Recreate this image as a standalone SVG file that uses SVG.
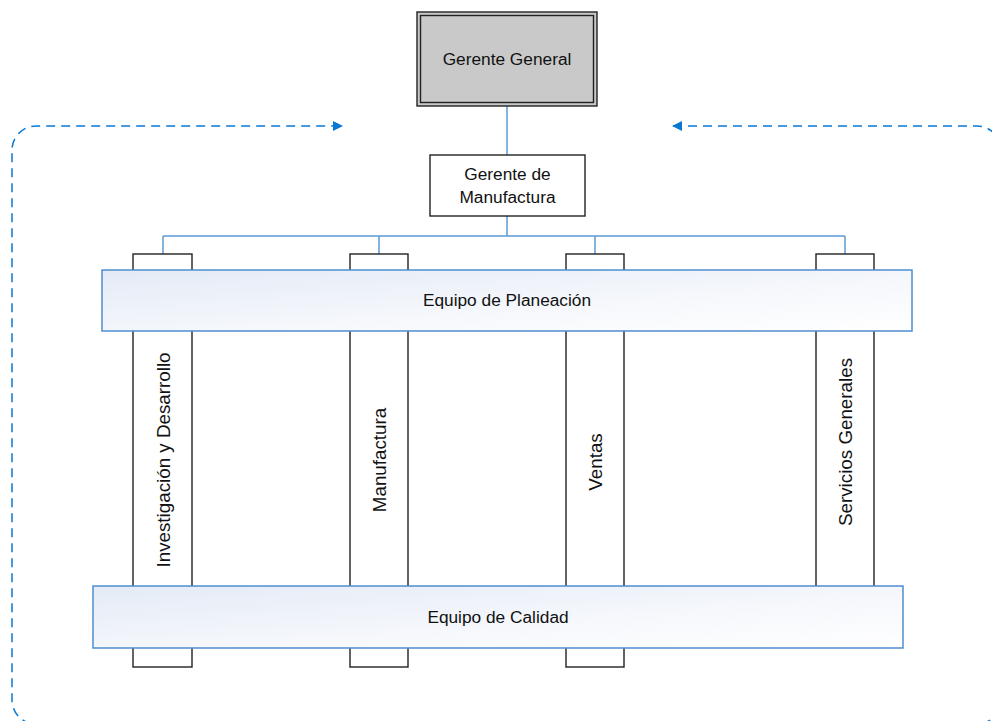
<svg xmlns="http://www.w3.org/2000/svg" width="992" height="721" viewBox="0 0 992 721">
  <defs>
    <linearGradient id="teamFill" x1="0" y1="0" x2="1" y2="1">
      <stop offset="0" stop-color="#e4ebf6"/>
      <stop offset="0.6" stop-color="#f6f8fc"/>
      <stop offset="1" stop-color="#ffffff"/>
    </linearGradient>
    <marker id="arrow" viewBox="0 0 10 10" refX="9" refY="5" markerWidth="10" markerHeight="10" markerUnits="userSpaceOnUse" orient="auto-start-reverse">
      <path d="M0,0 L10,5 L0,10 z" fill="#0a78d2"/>
    </marker>
    <style>
      text { font-family: "Liberation Sans", Arial, sans-serif; font-size: 17.3px; fill: #111; }
      .vert { font-size: 18.8px; }
      .col { fill: #ffffff; stroke: #222; stroke-width: 1.4; }
      .team { fill: url(#teamFill); stroke: #4f8dcf; stroke-width: 1.5; }
      .link { fill: none; stroke: #5b9bd5; stroke-width: 1.5; }
      .loop { fill: none; stroke: #0a78d2; stroke-width: 1.5; stroke-dasharray: 9 6; }
    </style>
  </defs>

  <!-- feedback loop around the organisation -->
  <g id="connectors">
    <path class="loop" d="M673,126 H977 A24,24 0 0 1 1001,150 V700 A24,24 0 0 1 977,724 H36 A24,24 0 0 1 12,700 V150 A24,24 0 0 1 36,126 H342" marker-start="url(#arrow)" marker-end="url(#arrow)"/>
    <path class="link" d="M507,106 V155"/>
    <path class="link" d="M507,216 V236 M163,236 H845 M163,236 V254 M379,236 V254 M595,236 V254 M845,236 V254"/>
  </g>

  <!-- functional columns (drawn first so team bands cross over them) -->
  <g id="col-investigacion">
    <rect class="col" x="133" y="254" width="59" height="413"/>
    <text class="vert" transform="translate(170,460) rotate(-90)" text-anchor="middle">Investigación y Desarrollo</text>
  </g>
  <g id="col-manufactura">
    <rect class="col" x="350" y="254" width="58" height="413"/>
    <text class="vert" transform="translate(386,460) rotate(-90)" text-anchor="middle">Manufactura</text>
  </g>
  <g id="col-ventas">
    <rect class="col" x="566" y="254" width="58" height="413"/>
    <text class="vert" transform="translate(602,462) rotate(-90)" text-anchor="middle">Ventas</text>
  </g>
  <g id="col-servicios">
    <rect class="col" x="816" y="254" width="58" height="340"/>
    <text class="vert" transform="translate(852,442) rotate(-90)" text-anchor="middle">Servicios Generales</text>
  </g>

  <!-- cross-functional teams -->
  <g id="equipo-planeacion">
    <rect class="team" x="102" y="270" width="810" height="61"/>
    <text x="507" y="306" text-anchor="middle">Equipo de Planeación</text>
  </g>
  <g id="equipo-calidad">
    <rect class="team" x="93" y="586" width="810" height="62"/>
    <text x="498" y="623" text-anchor="middle">Equipo de Calidad</text>
  </g>

  <!-- management -->
  <g id="gerente-general">
    <rect x="417" y="12" width="180" height="94" fill="#c9c9c9" stroke="#222" stroke-width="1.4"/>
    <rect x="420.5" y="15.5" width="173" height="87" fill="none" stroke="#222" stroke-width="1.4"/>
    <text x="507" y="65" text-anchor="middle">Gerente General</text>
  </g>
  <g id="gerente-manufactura">
    <rect x="430" y="155" width="155" height="61" fill="#ffffff" stroke="#222" stroke-width="1.4"/>
    <text x="507.5" y="180" text-anchor="middle">Gerente de</text>
    <text x="507.5" y="203" text-anchor="middle">Manufactura</text>
  </g>
</svg>
